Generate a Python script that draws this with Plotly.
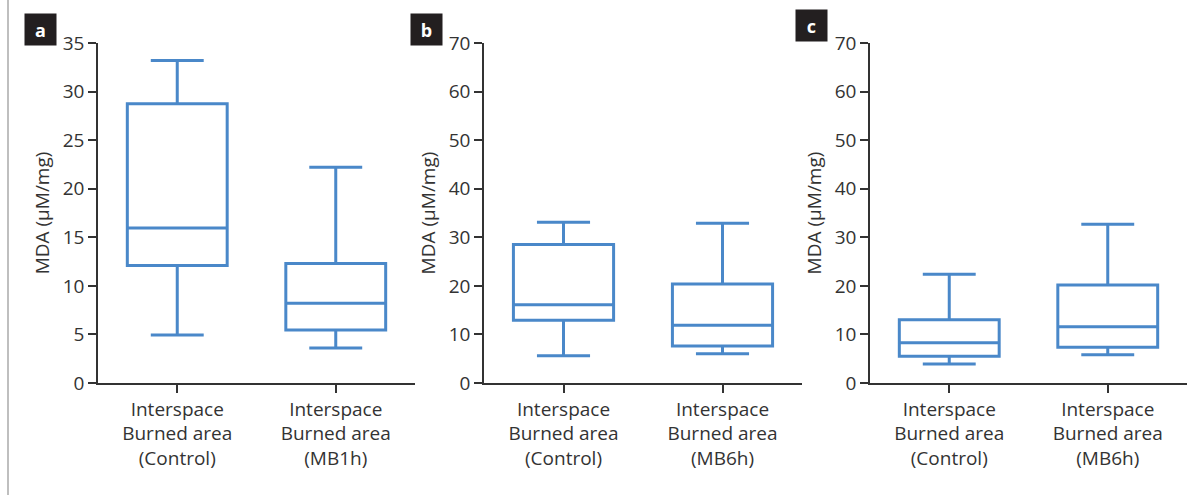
import plotly.graph_objects as go

# ---- data ----
cats_a = ["Interspace<br>Burned area<br>(Control)", "Interspace<br>Burned area<br>(MB1h)"]
cats_bc = ["Interspace<br>Burned area<br>(Control)", "Interspace<br>Burned area<br>(MB6h)"]

a_lower = [4.95, 3.6]
a_q1 = [12.1, 5.45]
a_median = [15.95, 8.2]
a_q3 = [28.75, 12.3]
a_upper = [33.2, 22.2]

b_lower = [5.6, 6.0]
b_q1 = [12.9, 7.6]
b_median = [16.1, 11.9]
b_q3 = [28.5, 20.4]
b_upper = [33.1, 32.9]

c_lower = [3.9, 5.8]
c_q1 = [5.5, 7.35]
c_median = [8.3, 11.6]
c_q3 = [13.0, 20.2]
c_upper = [22.4, 32.7]

panel_labels = ["a", "b", "c"]
y_ranges = [[0, 35], [0, 70], [0, 70]]
y_dticks = [5, 10, 10]
y_title = "MDA (µM/mg)"

BLUE = "#4a88c9"
DARK = "#333333"
FONT = "Open Sans"
FS = 19

W, H = 1200, 495
T, B = 43, 112

fig = go.Figure()

panels = [
    (cats_a, a_lower, a_q1, a_median, a_q3, a_upper),
    (cats_bc, b_lower, b_q1, b_median, b_q3, b_upper),
    (cats_bc, c_lower, c_q1, c_median, c_q3, c_upper),
]
domains = [[98 / W, 415 / W], [484 / W, 802 / W], [870 / W, 1187 / W]]

for i, (cats, lo, q1, med, q3, up) in enumerate(panels):
    sfx = "" if i == 0 else str(i + 1)
    fig.add_trace(go.Box(
        x=cats, q1=q1, median=med, q3=q3, lowerfence=lo, upperfence=up,
        xaxis="x" + sfx, yaxis="y" + sfx,
        line=dict(color=BLUE, width=3), fillcolor="rgba(255,255,255,0)",
        width=0.63, whiskerwidth=0.53, boxpoints=False, showlegend=False,
        hoverinfo="skip",
    ))
    fig.update_layout(**{
        "xaxis" + sfx: dict(
            domain=domains[i], anchor="y" + sfx, range=[-0.5, 1.5],
            showline=True, linecolor=DARK, linewidth=1.5,
            ticks="outside", ticklen=8, tickcolor=DARK, tickwidth=1.5,
            tickfont=dict(family=FONT, size=FS, color=DARK),
            showgrid=False, zeroline=False, fixedrange=True,
        ),
        "yaxis" + sfx: dict(
            domain=[0, 1], anchor="x" + sfx, range=y_ranges[i], dtick=y_dticks[i],
            showline=True, linecolor=DARK, linewidth=1.5,
            ticks="outside", ticklen=8, tickcolor=DARK, tickwidth=1.5,
            tickfont=dict(family=FONT, size=FS, color=DARK),
            title=dict(text=y_title, font=dict(family=FONT, size=FS, color=DARK), standoff=8),
            showgrid=False, zeroline=False, fixedrange=True,
        ),
    })

fig.update_layout(
    width=W, height=H,
    margin=dict(l=0, r=0, t=T, b=B),
    paper_bgcolor="white", plot_bgcolor="white",
    font=dict(family=FONT, color=DARK),
)

plot_h = H - T - B
label_pos = [(25, 14), (411, 14), (796, 10)]
anns = []
for lab, (px, py) in zip(panel_labels, label_pos):
    ycen = (H - B - (py + 15.5)) / plot_h
    anns.append(dict(
        text="<b>%s</b>" % lab, xref="paper", yref="paper",
        x=(px + 15.5) / W, y=ycen, xanchor="center", yanchor="middle",
        showarrow=False, bgcolor="#231f20", width=25, height=25, borderpad=3,
        font=dict(family=FONT, size=18, color="white"),
    ))
fig.update_layout(annotations=anns)

fig.add_shape(type="line", xref="paper", yref="paper",
              x0=8 / W, x1=8 / W, y0=(H - B - H) / plot_h, y1=(H - B) / plot_h,
              line=dict(color="#aaaaaa", width=1.5))

fig.write_html(
    "out.html",
    config={"displayModeBar": False},
    post_script="document.body.style.margin='0';document.body.style.overflow='hidden';",
)
